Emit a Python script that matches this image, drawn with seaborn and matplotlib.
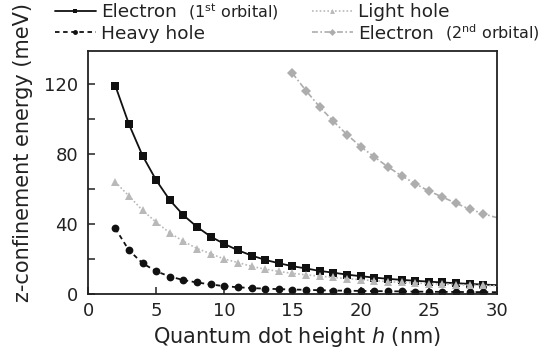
import matplotlib
matplotlib.use("Agg")
import matplotlib.pyplot as plt
import seaborn as sns
import pandas as pd
from matplotlib.lines import Line2D

# Quantum dot height (nm)
h_main = list(range(2, 31))
h_second = list(range(15, 31))

# z-confinement energies (meV)
electron_1st = [119, 97, 79, 65, 53.6, 45, 38.3, 32.8, 28.6, 25, 22, 19.5, 17.6, 15.9,
                14.6, 13.2, 12.2, 11.1, 10.2, 9.4, 8.7, 8.1, 7.6, 7.1, 6.6, 6.2, 5.8, 5.4, 5.1]
light_hole = [64, 56, 47.8, 41, 34.9, 30.1, 26, 23, 20, 18, 15.8, 14.2, 12.9, 11.8,
              11.0, 10.2, 9.5, 8.8, 8.2, 7.6, 7.1, 6.7, 6.3, 6.0, 5.7, 5.4, 5.1, 4.9, 4.7]
heavy_hole = [37.5, 25, 17.6, 13, 10, 8, 6.6, 5.5, 4.5, 3.9, 3.4, 3.1, 2.8, 2.6,
              2.4, 2.2, 2.0, 1.9, 1.8, 1.7, 1.6, 1.5, 1.4, 1.3, 1.25, 1.2, 1.15, 1.1, 1.05]
electron_2nd = [126, 116, 106.8, 98.6, 91, 84.2, 78.3, 72.6, 67.5, 63, 58.8, 55.4,
                51.8, 48.5, 45.8, 43.6]

sns.set_style("ticks")
plt.rcParams["font.family"] = ["DejaVu Sans"]
plt.rcParams["mathtext.fontset"] = "dejavusans"

fig = plt.figure(figsize=(5.39, 3.56), dpi=100)
ax = fig.add_axes([0.1633, 0.174, 0.7587, 0.684])

TXT = "#222222"
styles = {
    "e1": dict(color="#111111", marker="s", linestyle="-", linewidth=1.3),
    "hh": dict(color="#111111", marker="o", linestyle=(0, (2.5, 2)), linewidth=1.3),
    "lh": dict(color="#b9b9b9", marker="^", linestyle=(0, (1, 1.3)), linewidth=1.2),
    "e2": dict(color="#adadad", marker="D", linestyle=(0, (3.5, 1.5, 1, 1.5)), linewidth=1.2),
}
msizes = {"e1": 5.2, "hh": 5.6, "lh": 6.2, "e2": 4.8}

series = [("e1", h_main, electron_1st), ("hh", h_main, heavy_hole),
          ("lh", h_main, light_hole), ("e2", h_second, electron_2nd)]

for key, xs, ys in series:
    df = pd.DataFrame({"h": xs, "E": ys})
    sns.lineplot(data=df, x="h", y="E", ax=ax, markeredgewidth=0, markersize=msizes[key],
                 markevery=slice(0, len(xs) - 1), **styles[key])

ax.set_xlim(0, 30)
ax.set_ylim(0, 139)
ax.set_xticks([0, 5, 10, 15, 20, 25, 30])
ax.set_yticks([0, 20, 40, 60, 80, 100, 120])
ax.set_yticklabels(["0", "", "40", "", "80", "", "120"])
ax.tick_params(axis="both", direction="in", length=5, width=1.1, labelsize=13,
               colors=TXT, pad=6)
ax.tick_params(axis="y", pad=7)
for sp in ax.spines.values():
    sp.set_linewidth(1.3)
    sp.set_color(TXT)

ax.set_xlabel("Quantum dot height $\\mathit{h}$ (nm)", fontsize=15, color=TXT)
ax.set_ylabel("z-confinement energy (meV)", fontsize=15, color=TXT)
ax.xaxis.set_label_coords(0.512, -0.128)
ax.yaxis.set_label_coords(-0.135, 0.583)


def handle(key):
    return Line2D([], [], markersize=3.5, markeredgewidth=0, **styles[key])


leg_kw = dict(frameon=False, fontsize=13.3, handlelength=2.2, handletextpad=0.3,
              labelspacing=0.2, borderpad=0, borderaxespad=0, loc="upper left")
leg1 = fig.legend([handle("e1"), handle("hh")], ["Electron", "Heavy hole"],
                  bbox_to_anchor=(55 / 539, 1 - 3 / 356), **leg_kw)
leg2 = fig.legend([handle("lh"), handle("e2")], ["Light hole", "Electron"],
                  bbox_to_anchor=(312 / 539, 1 - 3 / 356), **leg_kw)
for t in leg1.get_texts() + leg2.get_texts():
    t.set_color(TXT)

# orbital qualifiers in a smaller size, sharing the legend label baseline
fig.canvas.draw()
renderer = fig.canvas.get_renderer()
inv = fig.transFigure.inverted()
for txt, label in [(leg1.get_texts()[0], "(1$^{\\mathregular{st}}$ orbital)"),
                   (leg2.get_texts()[1], "(2$^{\\mathregular{nd}}$ orbital)")]:
    bb = txt.get_window_extent(renderer)
    _, _, descent = renderer.get_text_width_height_descent(
        "lp", txt.get_fontproperties(), ismath=False)
    x, y = inv.transform((bb.x1 + 11, bb.y0 + descent))
    fig.text(x, y, label, fontsize=11.5, color=TXT, ha="left", va="baseline")

fig.savefig("out.png", dpi=100)
